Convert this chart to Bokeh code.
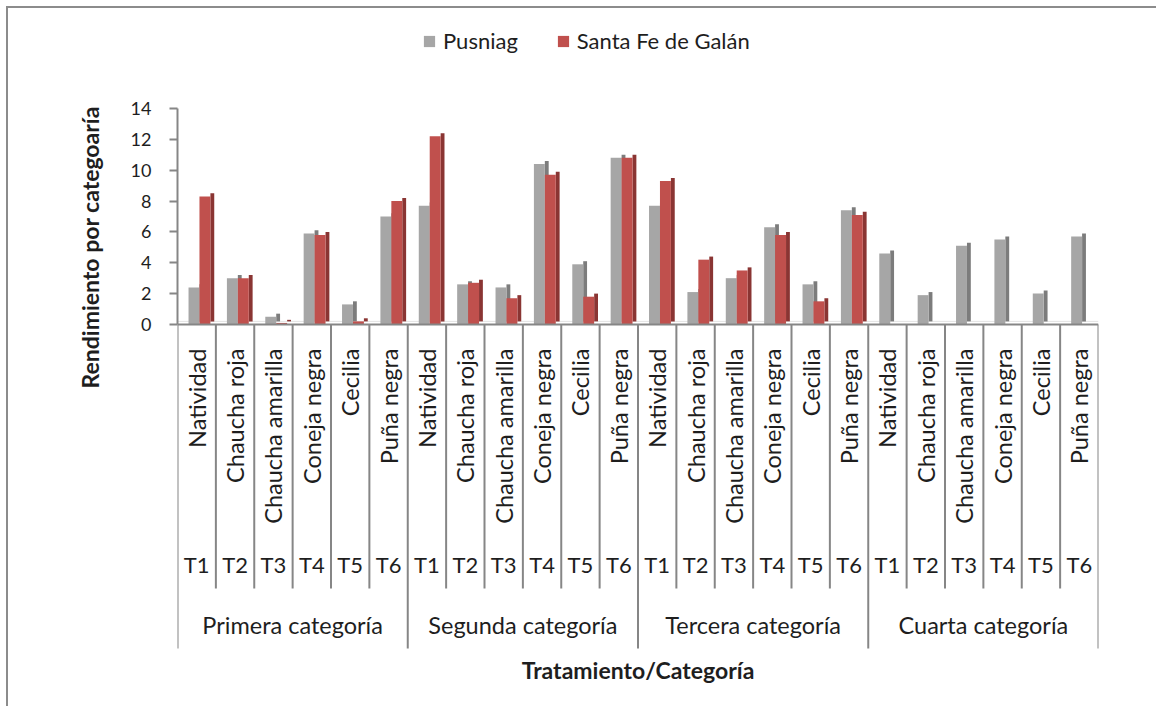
from math import pi, nan
from bokeh.plotting import figure
from bokeh.models import (ColumnDataSource, FactorRange, Range1d, FixedTicker,
                          Span, Legend, LegendItem, Title)
from bokeh.transform import dodge
from bokeh.core.properties import value
from bokeh.embed import file_html
from bokeh.resources import INLINE

# ---------------- data ----------------
categorias = ["Primera categoría", "Segunda categoría", "Tercera categoría", "Cuarta categoría"]
tratamientos = ["T1", "T2", "T3", "T4", "T5", "T6"]
variedades = ["Natividad", "Chaucha roja", "Chaucha amarilla", "Coneja negra", "Cecilia", "Puña negra"]
series_names = ["Pusniag", "Santa Fe de Galán"]
pusniag = [2.4, 3.0, 0.5, 5.9, 1.3, 7.0,
           7.7, 2.6, 2.4, 10.4, 3.9, 10.8,
           7.7, 2.1, 3.0, 6.3, 2.6, 7.4,
           4.6, 1.9, 5.1, 5.5, 2.0, 5.7]
santa_fe = [8.3, 3.0, 0.1, 5.8, 0.2, 8.0,
            12.2, 2.7, 1.7, 9.7, 1.8, 10.8,
            9.3, 4.2, 3.5, 5.8, 1.5, 7.1,
            nan, nan, nan, nan, nan, nan]
y_ticks = [0, 2, 4, 6, 8, 10, 12, 14]
x_title = "Tratamiento/Categoría"
y_title = "Rendimiento por categoaría"

# ---------------- styles ----------------
FONT = "Lato"
TXT = "#1e1e1e"
AX = "#868686"
GRAY, GRAY_SIDE = "#A6A6A6", "#7C7C7C"
RED, RED_SIDE = "#C0504D", "#8A3533"
DEPTH = 0.2
FRONT_W, SIDE_W = 0.285, 0.10
OFF_P, OFF_S = -0.07, 0.215

factors = [(c, t) for c in categorias for t in tratamientos]
src = ColumnDataSource(dict(
    x=factors,
    pus=pusniag,
    sf=santa_fe,
    pus_side=[v + DEPTH for v in pusniag],
    sf_side=[v + DEPTH for v in santa_fe],
    var=variedades * len(categorias),
    trat=tratamientos * len(categorias),
))

x_range = FactorRange(*factors, factor_padding=0, group_padding=0,
                      subgroup_padding=0, range_padding=0)

p = figure(width=1150, height=700, x_range=x_range, y_range=Range1d(-21.13, 19.7),
           output_backend="svg", toolbar_location=None,
           min_border_left=169, min_border_right=60, min_border_top=12, min_border_bottom=58,
           styles={"margin-left": "6px", "margin-top": "6px",
                   "border-top": "2px solid #8c8c8c", "border-left": "2px solid #8c8c8c"})
p.xgrid.visible = False
p.ygrid.visible = False
p.outline_line_color = None
p.background_fill_color = "white"

# floor line
p.add_layout(Span(location=DEPTH, dimension="width", line_color="#e3e3e3",
                  line_width=1, level="underlay"))

# bars (3D look: front face + darker side)
half = FRONT_W / 2 + SIDE_W / 2
p.vbar(x=dodge("x", OFF_P + half, range=x_range), top="pus_side", bottom=DEPTH,
       width=SIDE_W, source=src, fill_color=GRAY_SIDE, line_color=None)
r_p = p.vbar(x=dodge("x", OFF_P, range=x_range), top="pus", bottom=0,
             width=FRONT_W, source=src, fill_color=GRAY, line_color=None)
p.vbar(x=dodge("x", OFF_S + half, range=x_range), top="sf_side", bottom=DEPTH,
       width=SIDE_W, source=src, fill_color=RED_SIDE, line_color=None)
r_s = p.vbar(x=dodge("x", OFF_S, range=x_range), top="sf", bottom=0,
             width=FRONT_W, source=src, fill_color=RED, line_color=None)

# x axis line at 0
p.add_layout(Span(location=0, dimension="width", line_color=AX, line_width=2))

# separators of the category table
Y_SHORT, Y_LONG = -17.11, -21.0
short_src = ColumnDataSource(dict(x=[f for f in factors if f[1] != tratamientos[0]]))
long_src = ColumnDataSource(dict(x=[f for f in factors if f[1] == tratamientos[0]]))
end_src = ColumnDataSource(dict(x=[factors[-1]]))
p.segment(x0=dodge("x", -0.5, range=x_range), x1=dodge("x", -0.5, range=x_range),
          y0=0, y1=Y_SHORT, source=short_src, line_color=AX, line_width=2)
p.segment(x0=dodge("x", -0.5, range=x_range), x1=dodge("x", -0.5, range=x_range),
          y0=0, y1=Y_LONG, source=long_src, line_color=AX, line_width=2)
p.segment(x0=dodge("x", 0.5, range=x_range), x1=dodge("x", 0.5, range=x_range),
          y0=0, y1=Y_LONG, source=end_src, line_color=AX, line_width=2)

# table labels
p.text(x="x", y=-1.56, text="var", source=src, angle=pi / 2, text_align="right",
       text_baseline="middle", text_font=value(FONT), text_font_size="23.5px", text_color=TXT)
p.text(x="x", y=-15.55, text="trat", source=src, text_align="center",
       text_baseline="middle", text_font=value(FONT), text_font_size="22px", text_color=TXT)
cat_src = ColumnDataSource(dict(x=[(c, tratamientos[2]) for c in categorias], cat=categorias))
p.text(x=dodge("x", 0.5, range=x_range), y=-19.45, text="cat", source=cat_src,
       text_align="center", text_baseline="middle", text_font=value(FONT),
       text_font_size="23.5px", text_color=TXT)

# x axis hidden (titles drawn as Title models)
p.xaxis.visible = False

# y axis
ya = p.yaxis[0]
ya.ticker = FixedTicker(ticks=y_ticks)
ya.bounds = (0, 14)
ya.axis_line_color = AX
ya.axis_line_width = 2
ya.major_tick_line_color = AX
ya.major_tick_line_width = 2
ya.major_tick_out = 8
ya.major_tick_in = 0
ya.minor_tick_line_color = None
ya.major_label_text_font = FONT
ya.major_label_text_font_size = "18px"
ya.major_label_text_color = TXT
ya.major_label_standoff = 18

p.add_layout(Title(text=y_title, align="left", offset=262, vertical_align="middle",
                   standoff=46, text_font=FONT, text_font_style="bold",
                   text_font_size="23px", text_color=TXT), "left")
p.add_layout(Title(text=x_title, align="center", vertical_align="middle",
                   standoff=9, text_font=FONT, text_font_style="bold",
                   text_font_size="23px", text_color=TXT), "below")

legend = Legend(items=[LegendItem(label=series_names[0], renderers=[r_p]),
                       LegendItem(label=series_names[1], renderers=[r_s])],
                location=(245, 596), orientation="horizontal",
                label_text_font=FONT, label_text_font_size="22px", label_text_color=TXT,
                glyph_width=14, glyph_height=14, label_standoff=7, spacing=38,
                padding=0, margin=0, border_line_color=None, background_fill_alpha=0)
p.add_layout(legend)

open("out.html", "w").write(file_html(p, INLINE))
